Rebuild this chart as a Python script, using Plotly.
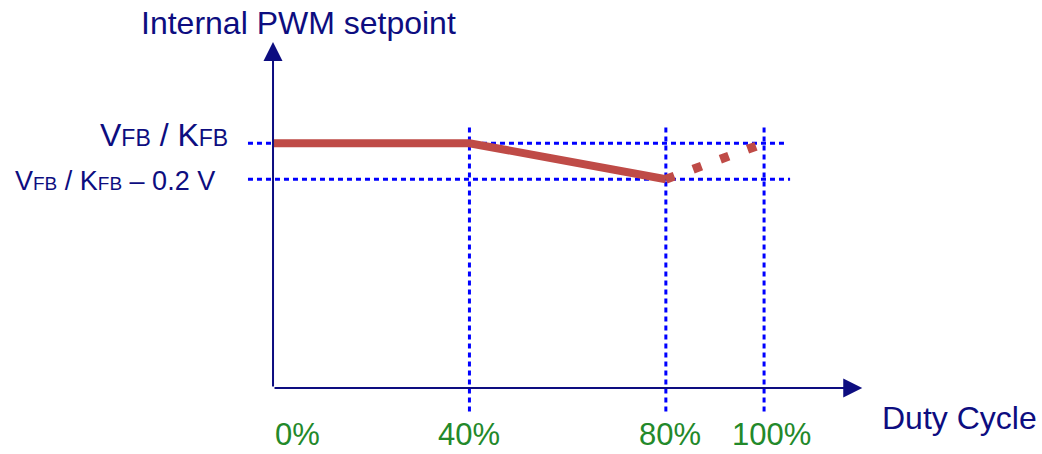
import plotly.graph_objects as go

# duty cycle breakpoints (%) and setpoint levels (arbitrary units, axis origin = 0)
duty_grid = [40, 80, 100]
duty_ticks = [0, 40, 80, 100]
tick_labels = ["0%", "40%", "80%", "100%"]
level_hi = 1.36          # VFB / KFB
level_lo = 1.16          # VFB / KFB - 0.2 V

solid_x = [0, 40, 80]
solid_y = [level_hi, level_hi, level_lo]
dotted_x = [80, 100]
dotted_y = [level_lo, level_hi]

NAVY = "#0d0d80"
BLUE = "#0000ff"
RED = "#bf4b47"
GREEN = "#23892a"
FONT = "Liberation Sans, Arial, sans-serif"

fig = go.Figure()

# horizontal dashed reference lines
for lvl, x_end in [(level_hi, 104.3), (level_lo, 105.3)]:
    fig.add_trace(go.Scatter(
        x=[-5.1, x_end], y=[lvl, lvl], mode="lines",
        line=dict(color=BLUE, width=3, dash="5px,4px"),
        hoverinfo="skip", showlegend=False,
    ))

# vertical dashed reference lines
for d in duty_grid:
    fig.add_trace(go.Scatter(
        x=[d, d], y=[-0.13, 1.46], mode="lines",
        line=dict(color=BLUE, width=3, dash="5px,4px"),
        hoverinfo="skip", showlegend=False,
    ))

# setpoint curve
fig.add_trace(go.Scatter(
    x=dotted_x, y=dotted_y, mode="lines",
    line=dict(color=RED, width=9, dash="9px,20px"),
    hoverinfo="skip", showlegend=False,
))
fig.add_trace(go.Scatter(
    x=solid_x, y=solid_y, mode="lines",
    line=dict(color=RED, width=8),
    hoverinfo="skip", showlegend=False,
))

annotations = []

# axes with arrowheads
annotations.append(dict(
    x=0, y=1.922, ax=0, ay=0, xref="x", yref="y", axref="x", ayref="y",
    showarrow=True, arrowhead=2, arrowsize=1.9, arrowwidth=2, arrowcolor=NAVY, text="",
))
annotations.append(dict(
    x=120, y=0, ax=0, ay=0, xref="x", yref="y", axref="x", ayref="y",
    showarrow=True, arrowhead=2, arrowsize=1.9, arrowwidth=2, arrowcolor=NAVY, text="",
))

# x tick labels
shifts = [0, 0, 4, 7]
for d, lab, sh in zip(duty_ticks, tick_labels, shifts):
    annotations.append(dict(
        x=d, y=-0.261, xref="x", yref="y", text=lab, showarrow=False,
        xanchor="left" if d == 0 else "center", yanchor="middle", xshift=sh,
        font=dict(family=FONT, size=31, color=GREEN),
    ))

# y level labels
sub_hi = "<span style='font-size:23px'>FB</span>"
sub_lo = "<span style='font-size:19px'>FB</span>"
annotations.append(dict(
    x=-8.8, y=level_hi, yshift=8, xref="x", yref="y",
    text=f"V{sub_hi} / K{sub_hi}", showarrow=False,
    xanchor="right", yanchor="middle",
    font=dict(family=FONT, size=32, color=NAVY),
))
annotations.append(dict(
    x=-11.4, y=level_lo, yshift=-2, xref="x", yref="y",
    text=f"V{sub_lo} / K{sub_lo} – 0.2 V", showarrow=False,
    xanchor="right", yanchor="middle",
    font=dict(family=FONT, size=27, color=NAVY),
))

# axis titles
annotations.append(dict(
    x=5.1, y=2.028, xref="x", yref="y", text="Internal PWM setpoint",
    showarrow=False, xanchor="center", yanchor="middle",
    font=dict(family=FONT, size=32, color=NAVY),
))
annotations.append(dict(
    x=139.7, y=-0.165, xref="x", yref="y", text="Duty Cycle",
    showarrow=False, xanchor="center", yanchor="middle",
    font=dict(family=FONT, size=32, color=NAVY),
))

fig.update_layout(
    width=1042, height=454, autosize=False,
    margin=dict(l=0, r=0, t=0, b=0),
    paper_bgcolor="white", plot_bgcolor="white",
    annotations=annotations,
    xaxis=dict(range=[-55.6, 156.6], visible=False, fixedrange=True),
    yaxis=dict(range=[-0.3667, 2.1556], visible=False, fixedrange=True),
)

fig.write_html(
    "out.html",
    config={"displayModeBar": False},
    post_script="document.body.style.margin='0';document.body.style.overflow='hidden';",
)
